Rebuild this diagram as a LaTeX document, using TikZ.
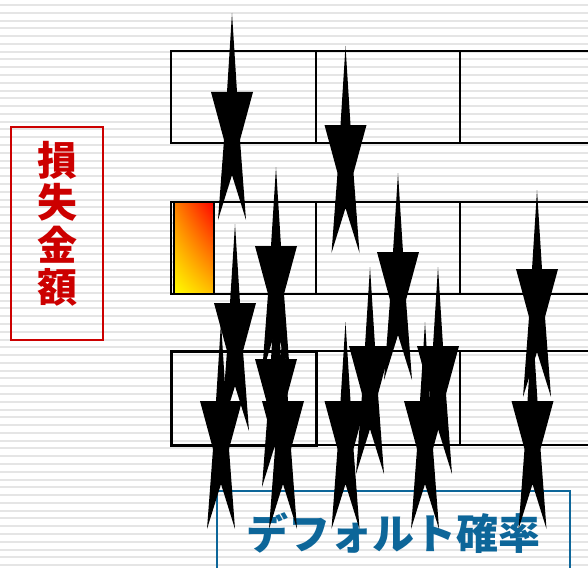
\documentclass[tikz,border=0pt]{standalone}
\usepackage{fontspec}
\usepackage{tikz}
\usetikzlibrary{shadings}
\newfontfamily\jpfont{Noto Sans CJK JP}
\definecolor{stripe-gray}{gray}{0.9}
\definecolor{lossred}{rgb}{0.8,0.0,0.0}
\definecolor{pdblue}{rgb}{0.05,0.4,0.6}

\begin{document}
\begin{tikzpicture}[x=1pt, y=-1pt,
	cell/.style={line width=2pt},
	spike/.style={fill=black}]

			\useasboundingbox (0,0) rectangle (588,567);
			\clip (0,0) rectangle (588,567);

			% striped background
			\fill[white] (0,0) rectangle (588,567);
			\foreach \k in {0,...,72}{
				\fill[stripe-gray] (0,4+\k*7.78) rectangle (588,6+\k*7.78);
			}

			% three rows of cells
			\foreach \top/\bot in {51/143, 202/294, 351/445}{
				\draw[cell] (600,\top) -- (171,\top) -- (171,\bot) -- (600,\bot);
				\draw[cell] (316,\top) -- (316,\bot);
				\draw[cell] (460,\top) -- (460,\bot);
			}
			\draw[line width=3pt] (171,351) rectangle (316,445);

			% loss bar
			\shade[upper right=red, lower left=yellow, upper left=orange, lower right=orange!50!yellow] (174,202) rectangle (214,294);
			\draw[line width=1.5pt] (174,202) rectangle (214,294);

			% labels
			\draw[lossred, line width=1.5pt] (11,127) rectangle (103,340);
			\node[lossred, align=center, font=\jpfont\bfseries\fontsize{40}{42.5}\selectfont] (loss) at (57,224) {損\\失\\金\\額};

			\draw[pdblue, line width=1.5pt] (217,491) rectangle (570,580);
			\node[pdblue, font=\jpfont\bfseries\fontsize{42}{44}\selectfont] (pd) at (393,533) {デフォルト確率};

			% arrows
			\foreach \x/\y in {232/92, 345.5/125, 276/246, 235/303, 398/252, 537/269,
				370/346, 438/346, 276/359, 221/401, 283/401, 345.5/401, 425/401, 532.5/401}{
				\fill[spike, shift={(\x,\y)}] (0,-79) -- (5,0) -- (21,0) -- (8,48) -- (14,128) -- (0,83) -- (-14,128) -- (-8,48) -- (-21,0) -- (-5,0) -- cycle;
			}

\end{tikzpicture}
\end{document}
